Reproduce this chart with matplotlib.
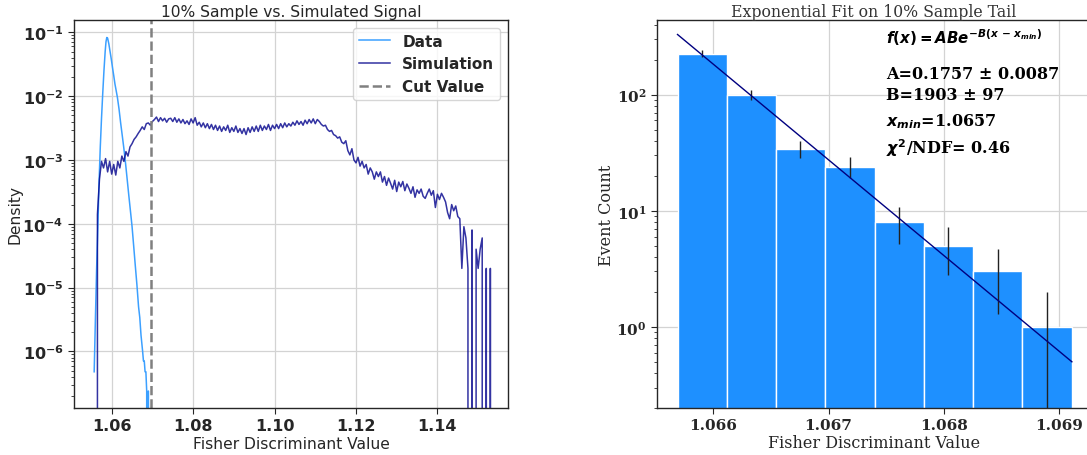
import numpy as np
import matplotlib
matplotlib.use('Agg')
import matplotlib.pyplot as plt

plt.rcParams['mathtext.fontset'] = 'custom'
plt.rcParams['mathtext.it'] = 'DejaVu Sans:italic:bold'
plt.rcParams['mathtext.rm'] = 'DejaVu Sans:bold'
plt.rcParams['mathtext.bf'] = 'DejaVu Sans:italic:bold'

# ---- left panel: 10% sample vs simulation (density per bin) ----
data_x = [1.0557, 1.0560, 1.0563, 1.0566, 1.0569, 1.0572, 1.0575, 1.0578, 1.0581, 1.0584,
          1.0586, 1.0588, 1.0590, 1.0593, 1.0596, 1.0599, 1.0602, 1.0605, 1.0608, 1.0611,
          1.0614, 1.0618, 1.0622, 1.0626, 1.0630, 1.0634, 1.0638, 1.0642, 1.0646, 1.0650,
          1.0654, 1.0658, 1.0662, 1.0666, 1.0669, 1.0672, 1.0676, 1.0678, 1.0680, 1.0682,
          1.0684, 1.0686, 1.0688, 1.0690, 1.0691]
data_density = [4.8e-7, 3.2e-6, 2.0e-5, 8.9e-5, 4.5e-4, 1.6e-3, 4.5e-3, 1.1e-2, 2.5e-2, 5.0e-2,
                7.1e-2, 8.3e-2, 8.1e-2, 6.6e-2, 5.0e-2, 3.8e-2, 2.8e-2, 2.1e-2, 1.55e-2, 1.22e-2,
                9.6e-3, 6.3e-3, 3.8e-3, 2.4e-3, 1.5e-3, 8.9e-4, 5.0e-4, 2.8e-4, 1.6e-4, 9.1e-5,
                4.5e-5, 2.2e-5, 1.1e-5, 5.0e-6, 3.4e-6, 1.8e-6, 1.0e-6, 7.1e-7, 7.1e-7, 4.8e-7,
                4.8e-7, 2.4e-7, 0, 2.4e-7, 0]

sim_start = 1.0560
sim_step = 0.0005
sim_density = [
    0, 1.4e-4, 5.0e-4, 9.5e-4, 7.5e-4, 1.05e-3, 6.5e-4, 9.5e-4, 6.0e-4, 8.5e-4,        # 1.0560
    5.8e-4, 9.5e-4, 7.5e-4, 1.15e-3, 9.5e-4, 1.35e-3, 1.15e-3, 1.6e-3, 1.8e-3, 2.1e-3,  # 1.0610
    2.3e-3, 2.6e-3, 2.9e-3, 3.3e-3, 3.0e-3, 3.7e-3, 3.8e-3, 3.5e-3, 4.0e-3, 4.3e-3,     # 1.0660
    4.7e-3, 4.0e-3, 4.6e-3, 4.1e-3, 4.5e-3, 3.9e-3, 4.4e-3, 4.5e-3, 4.0e-3, 4.6e-3,     # 1.0710
    3.9e-3, 4.4e-3, 3.8e-3, 4.3e-3, 3.7e-3, 4.1e-3, 3.6e-3, 4.4e-3, 3.8e-3, 4.6e-3,     # 1.0760
    3.5e-3, 3.9e-3, 3.3e-3, 3.8e-3, 3.2e-3, 3.7e-3, 3.1e-3, 3.6e-3, 3.0e-3, 3.5e-3,     # 1.0810
    2.9e-3, 3.4e-3, 2.8e-3, 3.3e-3, 2.9e-3, 3.5e-3, 2.7e-3, 3.2e-3, 2.8e-3, 3.4e-3,     # 1.0860
    2.7e-3, 3.1e-3, 2.6e-3, 3.1e-3, 2.5e-3, 3.2e-3, 2.7e-3, 3.3e-3, 2.8e-3, 3.4e-3,     # 1.0910
    2.8e-3, 3.5e-3, 2.9e-3, 3.4e-3, 3.0e-3, 3.6e-3, 2.9e-3, 3.5e-3, 3.1e-3, 3.6e-3,     # 1.0960
    3.1e-3, 3.7e-3, 3.2e-3, 3.8e-3, 3.3e-3, 3.7e-3, 3.4e-3, 3.9e-3, 3.5e-3, 4.1e-3,     # 1.1010
    3.6e-3, 4.0e-3, 3.5e-3, 4.2e-3, 3.7e-3, 4.3e-3, 3.8e-3, 4.4e-3, 3.7e-3, 4.3e-3,     # 1.1060
    4.0e-3, 3.6e-3, 3.4e-3, 3.5e-3, 3.0e-3, 2.8e-3, 2.9e-3, 2.5e-3, 2.4e-3, 2.2e-3,     # 1.1110
    2.3e-3, 1.9e-3, 1.8e-3, 2.0e-3, 1.4e-3, 1.2e-3, 1.5e-3, 1.0e-3, 9.0e-4, 1.1e-3,     # 1.1160
    8.0e-4, 9.5e-4, 7.5e-4, 8.5e-4, 6.0e-4, 7.5e-4, 6.5e-4, 5.0e-4, 6.5e-4, 5.5e-4,     # 1.1210
    6.5e-4, 4.5e-4, 5.5e-4, 4.0e-4, 5.2e-4, 4.3e-4, 3.5e-4, 4.8e-4, 3.2e-4, 4.5e-4,     # 1.1260
    3.8e-4, 4.6e-4, 3.3e-4, 4.2e-4, 3.6e-4, 3.0e-4, 3.8e-4, 2.6e-4, 3.4e-4, 3.0e-4,     # 1.1310
    3.5e-4, 2.7e-4, 2.5e-4, 3.0e-4, 3.5e-4, 2.8e-4, 3.3e-4, 1.8e-4, 2.9e-4, 2.4e-4,     # 1.1360
    3.0e-4, 2.6e-4, 2.2e-4, 1.5e-4, 1.2e-4, 2.0e-4, 1.6e-4, 1.9e-4, 1.3e-4, 1.2e-4,     # 1.1410
    2.0e-5, 9.0e-5, 6.0e-5, 2.0e-5, 0, 8.0e-5, 0, 4.0e-5, 2.0e-5, 4.0e-5,              # 1.1460
    6.0e-5, 0, 2.0e-5, 0, 2.0e-5, 0,                                                    # 1.1510
]
sim_x = sim_start + sim_step * np.arange(len(sim_density))
cut_value = 1.0697

# ---- right panel: exponential fit on tail ----
tail_edges = [1.06569, 1.06612, 1.06654, 1.06697, 1.06740, 1.06783, 1.06825, 1.06868, 1.06911]
tail_counts = [226, 100, 34, 24, 8, 5, 3, 1]
tail_err = [15.0, 10.0, 5.8, 4.9, 2.8, 2.2, 1.7, 1.0]
fit_x = [1.06569, 1.06911]
fit_y = [330, 0.5]

dark = '#262626'
fig = plt.figure(figsize=(10.87, 4.56), dpi=100)
ax1 = fig.add_axes([0.0681, 0.1031, 0.3993, 0.8509])
ax2 = fig.add_axes([0.6044, 0.1031, 0.3993, 0.8509])

# left
ax1.plot(data_x, data_density, color='#3ca0ff', lw=1.1, label='Data')
ax1.plot(sim_x, sim_density, color='darkblue', alpha=0.8, lw=1.1, label='Simulation')
ax1.axvline(cut_value, color='gray', ls='--', lw=1.8, label='Cut Value')
ax1.set_yscale('log')
ax1.set_xlim(1.05075, 1.15735)
ax1.set_ylim(1.3e-7, 0.156)
ax1.set_xticks([1.06, 1.08, 1.10, 1.12, 1.14])
ax1.set_yticks([1e-6, 1e-5, 1e-4, 1e-3, 1e-2, 1e-1])
ax1.grid(True, color='#d3d3d3', lw=0.9)
ax1.set_axisbelow(True)
ax1.set_title('10% Sample vs. Simulated Signal', fontsize=11.2, color=dark, pad=3)
ax1.set_xlabel('Fisher Discriminant Value', fontsize=11.2, color=dark, labelpad=2)
ax1.set_ylabel('Density', fontsize=11.2, color=dark, labelpad=0)
ax1.tick_params(axis='both', which='major', direction='out', length=4, width=0.8,
                colors=dark, labelsize=11.5)
ax1.tick_params(axis='y', which='minor', direction='out', length=2.5, width=0.6, colors=dark)
ax1.tick_params(axis='x', which='minor', bottom=False)
for s in ax1.spines.values():
    s.set_color(dark)
    s.set_linewidth(1.0)
leg = ax1.legend(loc='upper right', prop={'weight': 'bold', 'size': 11},
                 framealpha=0.8, edgecolor='#cccccc', fancybox=True, borderpad=0.4)
for t in leg.get_texts():
    t.set_color(dark)

# right
centers = [(a + b) / 2 for a, b in zip(tail_edges[:-1], tail_edges[1:])]
widths = [b - a for a, b in zip(tail_edges[:-1], tail_edges[1:])]
ax2.bar(tail_edges[:-1], tail_counts, width=widths, align='edge', color='#1e90ff',
        edgecolor='white', linewidth=1.0, zorder=2)
ax2.errorbar(centers, tail_counts, yerr=tail_err, fmt='none', ecolor='#222222',
             elinewidth=1.0, zorder=3)
ax2.plot(fit_x, fit_y, color='navy', lw=1.0, zorder=4)
ax2.set_yscale('log')
ax2.set_xlim(1.065512, 1.069276)
ax2.set_ylim(0.2, 440)
ax2.set_xticks([1.066, 1.067, 1.068, 1.069])
ax2.set_yticks([1, 10, 100])
ax2.grid(True, color='#d3d3d3', lw=0.9, zorder=0)
ax2.set_axisbelow(True)
ax2.set_title('Exponential Fit on 10% Sample Tail', fontsize=11.3, color='#333333',
              family='serif', pad=3)
ax2.set_xlabel('Fisher Discriminant Value', fontsize=11.5, color=dark, family='serif',
               labelpad=1)
ax2.set_ylabel('Event Count', fontsize=11.5, color=dark, family='serif', labelpad=1)
ax2.tick_params(axis='both', which='major', direction='out', length=4, width=0.8,
                colors=dark, labelsize=11)
ax2.tick_params(axis='y', which='minor', direction='out', length=2.5, width=0.6, colors=dark)
ax2.tick_params(axis='x', which='minor', bottom=False)
for s in ax2.spines.values():
    s.set_color(dark)
    s.set_linewidth(1.0)

kw = dict(transform=ax2.transAxes, family='serif', fontweight='bold', fontsize=11.5,
          color='black', va='center', ha='left')
ax2.text(0.528, 0.957, r'$f(x) = ABe^{-B(x\,-\,x_{min})}$', **dict(kw, fontsize=10.8))
ax2.text(0.528, 0.861, 'A=0.1757 ± 0.0087', **kw)
ax2.text(0.528, 0.807, 'B=1903 ± 97', **kw)
ax2.text(0.528, 0.740, r'$x_{min}$=1.0657', **kw)
ax2.text(0.528, 0.672, r'$\chi^2$/NDF= 0.46', **kw)

fig.canvas.draw()
plt.setp(ax1.get_xticklabels() + ax1.get_yticklabels(), fontweight='bold')
plt.setp(ax2.get_xticklabels() + ax2.get_yticklabels(), fontweight='bold', family='serif')

fig.savefig('out.png', dpi=100)
